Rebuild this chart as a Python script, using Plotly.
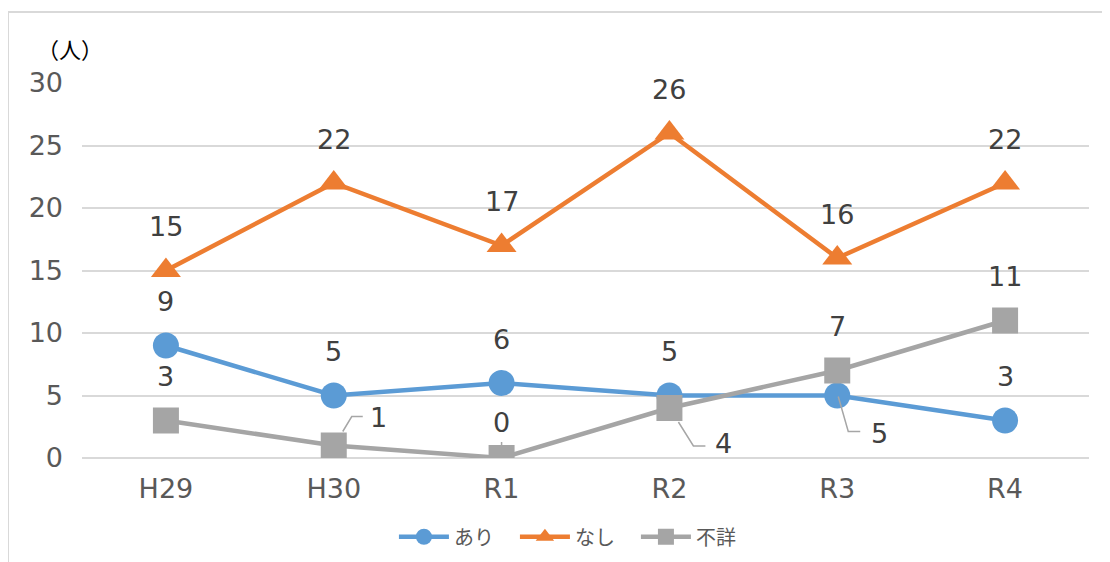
import plotly.graph_objects as go

categories = ["H29", "H30", "R1", "R2", "R3", "R4"]
ari = [9, 5, 6, 5, 5, 3]
nashi = [15, 22, 17, 26, 16, 22]
fusho = [3, 1, 0, 4, 7, 11]
y_ticks = [0, 5, 10, 15, 20, 25, 30]

FONT = "DejaVu Sans, Noto Sans CJK JP"
JP = "Noto Sans CJK JP"
colors = {"あり": "#5B9BD5", "なし": "#ED7D31", "不詳": "#A5A5A5"}

fig = go.Figure()
series = [("あり", ari, "circle"), ("なし", nashi, "triangle-up"), ("不詳", fusho, "square")]
for name, vals, sym in series:
    fig.add_trace(go.Scatter(
        x=categories, y=vals, name=name, mode="lines+markers",
        line=dict(color=colors[name], width=4.5),
        marker=dict(symbol=sym, size=26, color=colors[name]),
    ))

# label offsets (pixels, screen) and elbow leader line paths (pixels, up positive)
label_off = {("不詳", "H30"): (45, -28), ("不詳", "R2"): (54, 35),
             ("あり", "R3"): (42, 38), ("不詳", "R1"): (0, -36)}
leader_path = {("不詳", "H30"): "M9,14 L18,29 L29,29",
               ("不詳", "R2"): "M9,-14 L24,-38 L36,-38",
               ("あり", "R3"): "M1,-1 L11,-36 L23,-36",
               ("不詳", "R1"): "M0,13 L0,16"}
for name, vals, sym in series:
    for i, (c, v) in enumerate(zip(categories, vals)):
        dx, dy = label_off.get((name, c), (0, -44))
        fig.add_annotation(x=c, y=v, text=str(v), showarrow=False,
                           xshift=dx, yshift=-dy,
                           font=dict(family=FONT, size=27, color="#404040"))
        if (name, c) in leader_path:
            fig.add_shape(type="path", xref="x", yref="y",
                          xsizemode="pixel", ysizemode="pixel",
                          xanchor=i, yanchor=v, path=leader_path[(name, c)],
                          line=dict(color="#A6A6A6", width=1.5))

fig.add_annotation(xref="paper", yref="paper", x=-0.012, y=1.093, text="（人）",
                   xanchor="center", yanchor="middle",
                   showarrow=False, font=dict(family=JP, size=22, color="#000000"))

# chart border
fig.add_shape(type="rect", xref="paper", yref="paper",
              x0=-(82 - 8) / 1007, x1=1.2, y0=-0.5, y1=(458 - 12) / 375,
              line=dict(color="#D9D9D9", width=2), fillcolor="rgba(0,0,0,0)", layer="below")

fig.update_layout(
    width=1102, height=554,
    margin=dict(l=74, r=21, t=75, b=104, autoexpand=False),
    paper_bgcolor="white", plot_bgcolor="white",
    font=dict(family=FONT, color="#595959"),
    showlegend=True,
    legend=dict(orientation="h", x=0.49, xanchor="center", y=-0.21, yanchor="middle",
                font=dict(family=JP, size=20, color="#595959"), entrywidth=56,
                itemwidth=50),
    xaxis=dict(showgrid=False, showline=False, ticks="", zeroline=False,
               tickfont=dict(family=FONT, size=27, color="#595959"),
               ticklabelstandoff=12, range=[-0.5, 5.5]),
    yaxis=dict(range=[0, 30], tickvals=y_ticks, showgrid=True, gridcolor="#D9D9D9",
               gridwidth=1.5, zeroline=True, zerolinecolor="#D9D9D9", zerolinewidth=1.5,
               showline=False, ticks="",
               tickfont=dict(family=FONT, size=27, color="#595959"),
               ticklabelstandoff=18),
)

fig.write_html("out.html")
